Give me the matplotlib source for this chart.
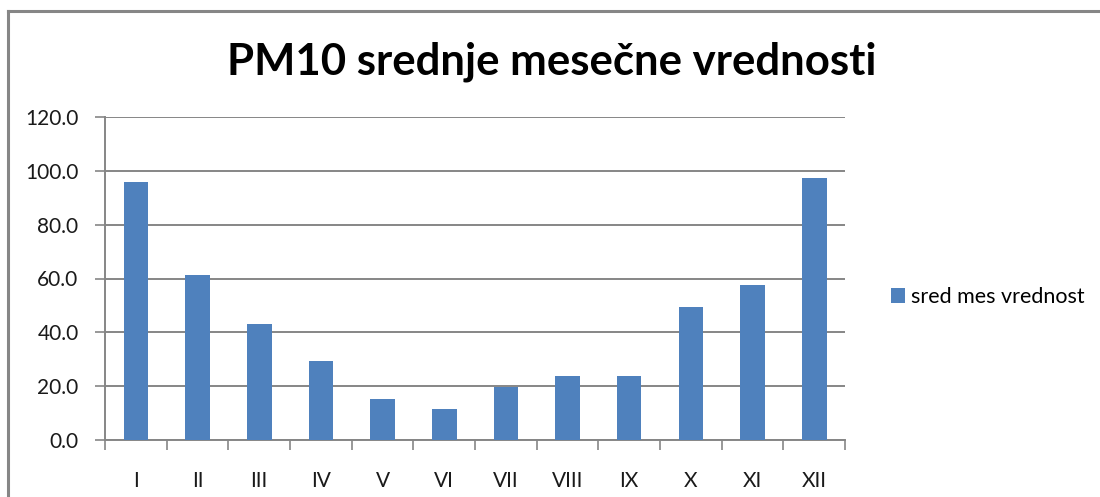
import matplotlib.pyplot as plt
from matplotlib.lines import Line2D
import numpy as np

months = ["I", "II", "III", "IV", "V", "VI", "VII", "VIII", "IX", "X", "XI", "XII"]
pm10 = [95.8, 61.2, 43.1, 29.3, 15.2, 11.5, 19.6, 23.8, 23.8, 49.4, 57.5, 97.3]
series_name = "sred mes vrednost"
title = "PM10 srednje mesečne vrednosti"

GRAY = "#868686"
BLUE = "#4F81BD"

plt.rcParams["font.family"] = ["Lato", "DejaVu Sans"]

fig = plt.figure(figsize=(11, 4.97), dpi=100)
ax = fig.add_axes([105 / 1100, 1 - 440 / 497, 740 / 1100, 323 / 497])

x = np.arange(len(months))
ax.bar(x, pm10, width=0.4, color=BLUE, label=series_name, zorder=3)

ax.set_xlim(-0.5, len(months) - 0.5)
ax.set_ylim(0, 120)
ax.set_yticks(np.arange(0, 121, 20))
ax.set_yticklabels([f"{v:.1f}" for v in np.arange(0, 121, 20)])
ax.set_xticks(x)
ax.set_xticklabels(months)
ax.set_xticks(np.arange(-0.5, len(months)), minor=True)
ax.tick_params(axis="x", which="major", length=0, pad=22, labelsize=15, labelcolor="#1a1a1a")
ax.tick_params(axis="x", which="minor", length=7, width=1.2, color=GRAY)
ax.tick_params(axis="y", length=7, width=1.2, color=GRAY, pad=12, labelsize=15, labelcolor="#1a1a1a")

ax.grid(axis="y", color=GRAY, linewidth=1.4, zorder=0)
for side in ["top", "right"]:
    ax.spines[side].set_visible(False)
for side in ["left", "bottom"]:
    ax.spines[side].set_color(GRAY)
    ax.spines[side].set_linewidth(1.4)

fig.text(552 / 1100, 1 - 62 / 497, title, ha="center", va="center",
         fontsize=31.5, fontweight="bold", color="black")

fig.legend(loc="center left", bbox_to_anchor=(880 / 1100, 1 - 297 / 497),
           frameon=False, fontsize=15.5, handlelength=0.65, handleheight=0.65,
           handletextpad=0.3, borderpad=0)

# chart frame (left and top edges visible)
fig.add_artist(Line2D([8 / 1100, 8 / 1100], [0, 1 - 11 / 497], color=GRAY, linewidth=2.2))
fig.add_artist(Line2D([8 / 1100, 1], [1 - 11 / 497, 1 - 11 / 497], color=GRAY, linewidth=2.2))

fig.savefig("out.png", dpi=100)
